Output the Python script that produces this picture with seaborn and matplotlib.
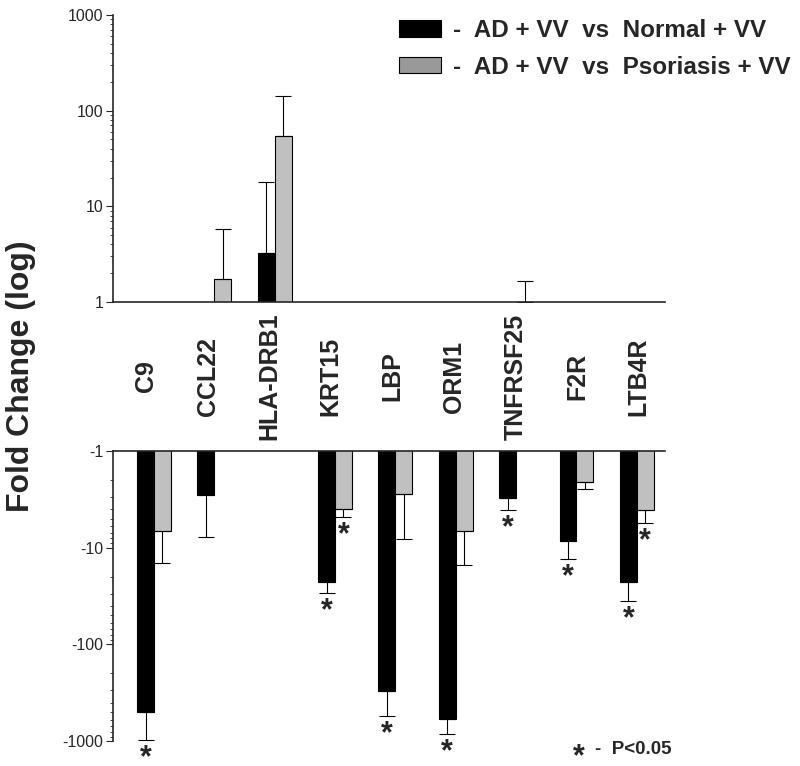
import numpy as np
import pandas as pd
import seaborn as sns
import matplotlib.pyplot as plt
from matplotlib.patches import Patch
from matplotlib.ticker import FixedLocator, FixedFormatter, LogLocator, NullFormatter

# fold changes (negative = down-regulated)
genes = ["C9", "CCL22", "HLA-DRB1", "KRT15", "LBP", "ORM1", "TNFRSF25", "F2R", "LTB4R"]
normal_fc = [-500, -2.85, 3.25, -22.5, -302, -590, -3.05, -8.5, -22.5]
normal_err = [970, 7.8, 18, 29.6, 550, 845, 4.07, 13.1, 35.5]
psor_fc = [-6.7, 1.74, 55, -4.0, -2.77, -6.7, 1.0, -2.09, -4.07]
psor_err = [14.4, 5.8, 141, 4.8, 8.1, 15, 1.66, 2.47, 5.5]
normal_sig = [True, False, False, True, True, True, True, True, True]
psor_sig = [False, False, False, True, False, False, False, False, True]

lab_normal = "-  AD + VV  vs  Normal + VV"
lab_psor = "-  AD + VV  vs  Psoriasis + VV"
colors = {"normal": "#000000", "psor": "#c0c0c0"}

sns.set_style("ticks")
plt.rcParams["font.family"] = ["Liberation Sans", "DejaVu Sans"]

W, H = 800, 766
fig = plt.figure(figsize=(W / 100, H / 100), dpi=100)


def fax(x0, x1, y0, y1):
    # axes from pixel box (top-left origin)
    return fig.add_axes([x0 / W, 1 - y1 / H, (x1 - x0) / W, (y1 - y0) / H])


ax_up = fax(113, 665, 15, 302)
ax_dn = fax(113, 665, 451, 741)
ax_lab = fax(113, 665, 302, 451)

rows = []
for g, a, b in zip(genes, normal_fc, psor_fc):
    rows.append({"gene": g, "cmp": "normal", "fc": a})
    rows.append({"gene": g, "cmp": "psor", "fc": b})
df = pd.DataFrame(rows)
df["up"] = df["fc"].where(df["fc"] > 0)
df["down"] = (-df["fc"]).where(df["fc"] < 0)

series = [("normal", normal_fc, normal_err, normal_sig, -1),
          ("psor", psor_fc, psor_err, psor_sig, 1)]
WIDTH = 0.56


def panel(ax, col, positive):
    sns.barplot(data=df.dropna(subset=[col]), x="gene", y=col, hue="cmp",
                order=genes, hue_order=["normal", "psor"], palette=colors,
                width=WIDTH, dodge=True, edgecolor="black", linewidth=0.8,
                errorbar=None, legend=False, ax=ax)
    ax.set_yscale("log")
    for key, fc, err, sig, side in series:
        for i, (v, e, s) in enumerate(zip(fc, err, sig)):
            if (v > 0) != positive:
                continue
            m = abs(v)
            x = i + side * WIDTH / 4
            ax.errorbar(x, m, yerr=[[0], [e - m]], fmt="none", ecolor="black",
                        elinewidth=0.8, capsize=6, capthick=0.8, zorder=1)
            if s:
                ax.annotate("*", xy=(x, e), xytext=(0, -2.5), textcoords="offset points",
                            ha="center", va="top", fontsize=22, fontweight="bold",
                            annotation_clip=False)
    ax.set_xlabel("")
    ax.set_ylabel("")
    ax.set_xticks([])
    ax.set_xlim(-0.679, 8.467)
    ax.yaxis.set_major_locator(FixedLocator([1, 10, 100, 1000]))
    ax.yaxis.set_minor_locator(LogLocator(base=10, subs=np.arange(2, 10)))
    ax.yaxis.set_minor_formatter(NullFormatter())
    ax.tick_params(axis="y", which="major", length=5, width=0.8, labelsize=11.5, pad=2)
    ax.tick_params(axis="y", which="minor", length=2.5, width=0.6)
    for sp in ax.spines.values():
        sp.set_linewidth(1.2)


panel(ax_up, "up", True)
ax_up.set_ylim(1, 1000)
ax_up.yaxis.set_major_formatter(FixedFormatter(["1", "10", "100", "1000"]))
sns.despine(ax=ax_up)

panel(ax_dn, "down", False)
ax_dn.set_ylim(1000, 1)
ax_dn.yaxis.set_major_formatter(FixedFormatter(["-1", "-10", "-100", "-1000"]))
sns.despine(ax=ax_dn, top=False, bottom=True)

# gene names between the two panels
ax_lab.set_xlim(-0.536, 8.425)
ax_lab.set_ylim(0, 1)
ax_lab.axis("off")
for i, g in enumerate(genes):
    ax_lab.text(i, 0.5, g, rotation=90, ha="center", va="center",
                fontsize=18, fontweight="bold")

fig.text(21 / W, 1 - 376 / H, "Fold Change (log)", rotation=90, ha="center",
         va="center", fontsize=23, fontweight="bold")

handles = [Patch(facecolor="#000000", edgecolor="black", linewidth=0.8),
           Patch(facecolor="#999999", edgecolor="black", linewidth=0.8)]
fig.legend(handles, [lab_normal, lab_psor], loc="upper left",
           bbox_to_anchor=(399 / W, 1 - 19 / H), frameon=False, borderpad=0,
           borderaxespad=0, handlelength=1.74, handleheight=0.66, handletextpad=0.5,
           labelspacing=0.56, prop={"size": 17.5, "weight": "bold"})

fig.text(579 / W, 1 - 742 / H, "*", ha="center", va="top", fontsize=22,
         fontweight="bold")
fig.text(595 / W, 1 - 749 / H, "-  P<0.05", ha="left", va="center",
         fontsize=13.5, fontweight="bold")

fig.savefig("out.png", dpi=100)
